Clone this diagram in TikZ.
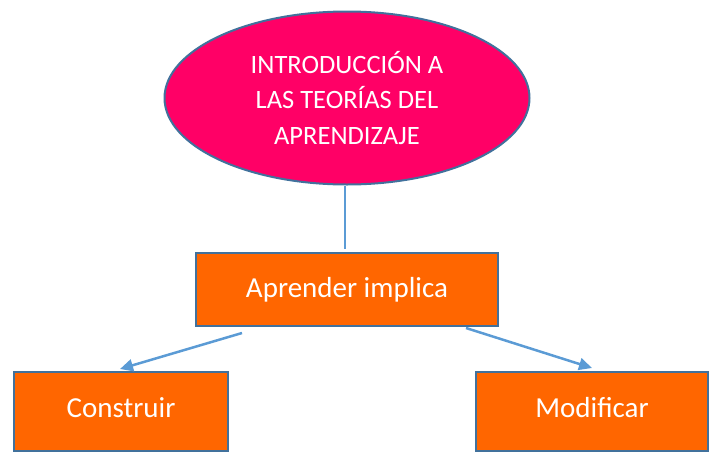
\documentclass[tikz,border=0pt]{standalone}
\usepackage{fontspec}
\setmainfont{Carlito}
\usetikzlibrary{arrows.meta,shapes.geometric}
\definecolor{magentafill}{HTML}{FF0066}
\definecolor{orangefill}{HTML}{FF6600}
\definecolor{edgeblue}{HTML}{41719C}
\definecolor{linkblue}{HTML}{5B9BD5}
\tikzset{
  boxnode/.style={draw=edgeblue, line width=2pt, fill=orangefill, text=white, inner sep=0pt, font=\fontsize{29}{35}\selectfont},
  topnode/.style={ellipse, draw=edgeblue, line width=2pt, fill=magentafill, text=white, inner sep=0pt, align=center, font=\fontsize{26.5}{35.5}\selectfont},
  linkarrow/.style={draw=linkblue, line width=2.5pt, -{Triangle[length=13pt,width=12pt]}},
  linkline/.style={draw=linkblue, line width=1.2pt}
}
\begin{document}
\begin{tikzpicture}[x=1pt,y=-1pt]
\useasboundingbox (0,0) rectangle (709,458);
\node[topnode, minimum width=365pt, minimum height=173pt] (ell) at (347,98) {\raisebox{-3pt}{INTRODUCCIÓN A}\\\raisebox{-3pt}{LAS TEORÍAS DEL}\\\raisebox{-3pt}{APRENDIZAJE}};
\node[boxnode, minimum width=302pt, minimum height=73pt] (apr) at (347,289.5) {Aprender implica};
\node[boxnode, minimum width=214pt, minimum height=79pt] (con) at (121,411.5) {\raisebox{8pt}{Construir}};
\node[boxnode, minimum width=232pt, minimum height=79pt] (mod) at (592,411.5) {\raisebox{8pt}{Modificar}};
\draw[linkline] ([xshift=-2pt]ell.south) -- ([xshift=-2pt,yshift=3pt]apr.north);
\draw[linkarrow] ([xshift=47pt,yshift=-6pt]apr.south west) -- ([xshift=-1pt,yshift=2pt]con.north);
\draw[linkarrow] ([xshift=-33pt,yshift=-1pt]apr.south east) -- ([yshift=3pt]mod.north);
\end{tikzpicture}
\end{document}
